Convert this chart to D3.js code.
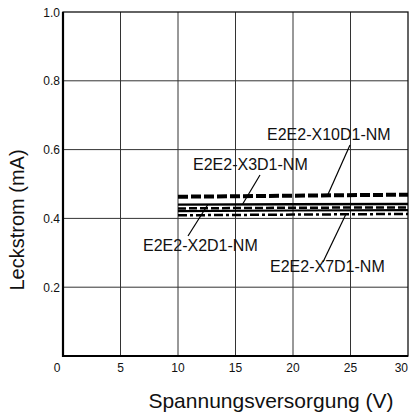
<!DOCTYPE html>
<html>
<head>
<meta charset="utf-8">
<script src="https://cdn.jsdelivr.net/npm/d3@7"></script>
<style>
  body { margin: 0; background: #fff; }
  text { font-family: "Liberation Sans", Arial, sans-serif; fill: #111; }
</style>
</head>
<body>
<script>
// data
var voltage = [10, 20, 30];
var seriesNames = ["E2E2-X10D1-NM", "E2E2-X2D1-NM", "E2E2-X3D1-NM", "", "E2E2-X7D1-NM"];
var seriesValues = [
    [0.463, 0.466, 0.469],
    [0.440, 0.441, 0.442],
    [0.429, 0.431, 0.432],
    [0.421, 0.423, 0.424],
    [0.409, 0.411, 0.413]
];
var seriesDash = ["10,3", null, "8,3", null, "9,3,3,3"];
var seriesWidth = [4, 2.4, 2.5, 2.2, 2.5];
var xTicks = [0, 5, 10, 15, 20, 25, 30];
var yTicks = [0.2, 0.4, 0.6, 0.8, 1.0];

var width = 409, height = 417;
var margin = { left: 63, top: 12, right: 1, bottom: 61 };

var x = d3.scaleLinear().domain([0, 30]).range([margin.left, width - margin.right]);
var y = d3.scaleLinear().domain([0, 1.0]).range([height - margin.bottom, margin.top]);

var svg = d3.select("body").append("svg")
    .attr("width", width)
    .attr("height", height);

// grid
svg.append("g")
    .selectAll("line")
    .data(xTicks.slice(1, -1))
    .enter().append("line")
    .attr("x1", d => x(d)).attr("x2", d => x(d))
    .attr("y1", y(0)).attr("y2", y(1))
    .attr("stroke", "#333").attr("stroke-width", 1);

svg.append("g")
    .selectAll("line")
    .data(yTicks.slice(0, -1))
    .enter().append("line")
    .attr("x1", x(0)).attr("x2", x(30))
    .attr("y1", d => y(d)).attr("y2", d => y(d))
    .attr("stroke", "#333").attr("stroke-width", 1);

// frame
svg.append("rect")
    .attr("x", x(0)).attr("y", y(1))
    .attr("width", x(30) - x(0)).attr("height", y(0) - y(1))
    .attr("fill", "none").attr("stroke", "#111").attr("stroke-width", 1.3);
svg.append("path")
    .attr("d", "M" + x(0) + "," + y(1) + "V" + y(0) + "H" + x(30))
    .attr("fill", "none").attr("stroke", "#000").attr("stroke-width", 2.2);

// tick labels
svg.append("g")
    .selectAll("text")
    .data(yTicks)
    .enter().append("text")
    .attr("x", x(0) - 3)
    .attr("y", d => y(d) + 4.5)
    .attr("text-anchor", "end")
    .attr("font-size", 12)
    .text(d => d.toFixed(1));

svg.append("g")
    .selectAll("text")
    .data(xTicks)
    .enter().append("text")
    .attr("x", d => d === 0 ? x(0) - 6 : (d === 30 ? x(30) : x(d)))
    .attr("y", y(0) + 16)
    .attr("text-anchor", d => d === 30 ? "end" : "middle")
    .attr("font-size", 12)
    .text(d => d);

// series
var line = d3.line()
    .x((d, i) => x(voltage[i]))
    .y(d => y(d));

svg.append("g")
    .selectAll("path")
    .data(seriesValues)
    .enter().append("path")
    .attr("d", line)
    .attr("fill", "none")
    .attr("stroke", "#000")
    .attr("stroke-width", (d, i) => seriesWidth[i])
    .attr("stroke-dasharray", (d, i) => seriesDash[i]);

// labels with leader lines
var labels = [
    { name: seriesNames[0], tx: 267, ty: 140, lx1: 350, ly1: 145, v: 23, s: 0 },
    { name: seriesNames[2], tx: 193, ty: 170, lx1: 260, ly1: 175, v: 15.6, s: 1 },
    { name: seriesNames[1], tx: 143, ty: 251, lx1: 188, ly1: 236, v: 12.6, s: 1 },
    { name: seriesNames[4], tx: 270, ty: 272, lx1: 323, ly1: 262, v: 24.6, s: 4 }
];

labels.forEach(function (l) {
    var vi = seriesValues[l.s];
    var val = vi[0] + (vi[2] - vi[0]) * (l.v - 10) / 20;
    svg.append("line")
        .attr("x1", l.lx1).attr("y1", l.ly1)
        .attr("x2", x(l.v)).attr("y2", y(val))
        .attr("stroke", "#000").attr("stroke-width", 1.2);
    svg.append("text")
        .attr("x", l.tx).attr("y", l.ty)
        .attr("font-size", 16)
        .text(l.name);
});

// axis titles
svg.append("text")
    .attr("transform", "translate(24," + 220 + ") rotate(-90)")
    .attr("text-anchor", "middle")
    .attr("font-size", 20)
    .text("Leckstrom (mA)");

svg.append("text")
    .attr("x", 271)
    .attr("y", 408)
    .attr("text-anchor", "middle")
    .attr("font-size", 21)
    .text("Spannungsversorgung (V)");
</script>
</body>
</html>
